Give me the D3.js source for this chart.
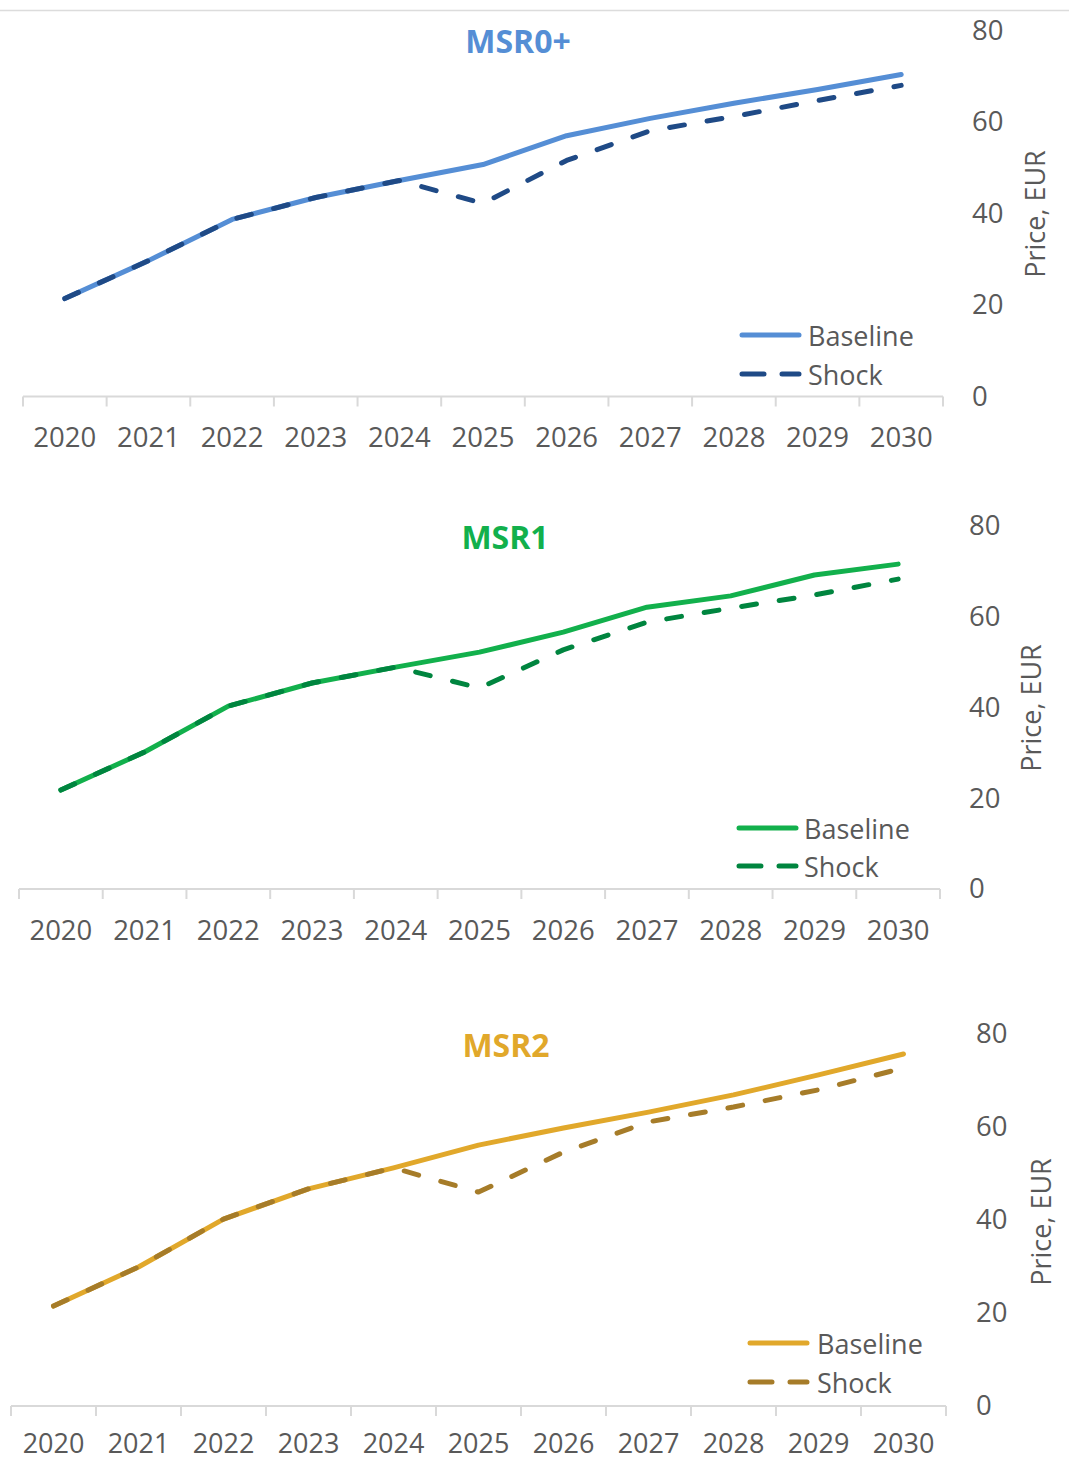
<!DOCTYPE html>
<html>
<head>
<meta charset="utf-8">
<script src="https://cdn.jsdelivr.net/npm/d3@7"></script>
<style>
  html, body { margin: 0; padding: 0; background: #fff; }
  svg { display: block; }
  text { font-family: "Open Sans", sans-serif; }
</style>
</head>
<body>
<svg id="chart" width="1069" height="1463"></svg>
<script>
// ---- data ----
const years = ["2020","2021","2022","2023","2024","2025","2026","2027","2028","2029","2030"];
const yTicks = [0, 20, 40, 60, 80];
const panelTitles = ["MSR0+", "MSR1", "MSR2"];
const seriesNames = ["Baseline", "Shock"];
const axisTitle = "Price, EUR";

const msr0Baseline = [21.4, 29.7, 38.7, 43.5, 47.2, 50.7, 57.0, 60.8, 64.1, 67.1, 70.4];
const msr0Shock    = [21.4, 29.7, 38.7, 43.5, 47.2, 42.2, 51.6, 58.1, 61.2, 64.7, 68.0];
const msr1Baseline = [21.8, 30.2, 40.3, 45.4, 48.9, 52.2, 56.6, 62.1, 64.6, 69.2, 71.6];
const msr1Shock    = [21.8, 30.2, 40.3, 45.4, 48.9, 44.3, 52.7, 58.8, 61.9, 64.8, 68.3];
const msr2Baseline = [21.5, 29.9, 40.2, 46.7, 51.2, 56.1, 59.8, 63.2, 66.9, 71.2, 75.7];
const msr2Shock    = [21.5, 29.9, 40.2, 46.7, 51.2, 46.0, 54.6, 61.1, 64.3, 68.0, 72.7];

// ---- layout / style (not data) ----
const panels = [
  { title: panelTitles[0], base: msr0Baseline, shock: msr0Shock,
    cBase: "#558ED5", cShock: "#1F4A86", cTitle: "#558ED5",
    xL: 23, xR: 943, y0: 396.5, yTop: 30.5, tickX: 972, xPad: 31, xFs: 27.5,
    atX: 1034, atY: 214, tX: 518, tY: 53,
    lgX: 742, lgTX: 808, lgY1: 335, lgY2: 374 },
  { title: panelTitles[1], base: msr1Baseline, shock: msr1Shock,
    cBase: "#12B04C", cShock: "#00853F", cTitle: "#12B04C",
    xL: 19, xR: 940, y0: 889, yTop: 526, tickX: 969, xPad: 31, xFs: 27.5,
    atX: 1030, atY: 708, tX: 505, tY: 549,
    lgX: 739, lgTX: 804, lgY1: 828, lgY2: 866 },
  { title: panelTitles[2], base: msr2Baseline, shock: msr2Shock,
    cBase: "#E1A82B", cShock: "#A67C29", cTitle: "#E1A82B",
    xL: 11, xR: 946, y0: 1406, yTop: 1034, tickX: 976, xPad: 28, xFs: 27,
    atX: 1040, atY: 1222, tX: 506, tY: 1057,
    lgX: 750, lgTX: 817, lgY1: 1343, lgY2: 1382 }
];

const textColor = "#595959";
const axisColor = "#D9D9D9";
const svg = d3.select("#chart");

// top border line
svg.append("line")
  .attr("x1", 0).attr("x2", 1069).attr("y1", 10.5).attr("y2", 10.5)
  .attr("stroke", "#DCDCDC").attr("stroke-width", 1.5);

panels.forEach(p => {
  const g = svg.append("g");
  const x = d3.scaleBand().domain(years).range([p.xL, p.xR]);
  const y = d3.scaleLinear().domain([0, 80]).range([p.y0, p.yTop]);

  // category axis line + boundary ticks
  g.append("line")
    .attr("x1", p.xL).attr("x2", p.xR)
    .attr("y1", p.y0).attr("y2", p.y0)
    .attr("stroke", axisColor).attr("stroke-width", 2);
  const bounds = years.map(d => x(d)).concat([x(years[years.length - 1]) + x.bandwidth()]);
  g.selectAll(".bt").data(bounds).join("line")
    .attr("x1", d => d).attr("x2", d => d)
    .attr("y1", p.y0).attr("y2", p.y0 + 10)
    .attr("stroke", axisColor).attr("stroke-width", 2);

  // x axis labels
  const xAxis = d3.axisBottom(x).tickSize(0).tickPadding(p.xPad);
  const xg = g.append("g").attr("transform", `translate(0,${p.y0})`).call(xAxis);
  xg.select(".domain").remove();
  xg.selectAll("text")
    .attr("fill", textColor)
    .style("font-size", p.xFs + "px")
    .style("font-family", "'Open Sans', sans-serif");

  // y axis labels (right side)
  const yAxis = d3.axisRight(y).tickValues(yTicks).tickSize(0).tickPadding(0);
  const yg = g.append("g").attr("transform", `translate(${p.tickX},0)`).call(yAxis);
  yg.select(".domain").remove();
  yg.selectAll("text")
    .attr("fill", textColor)
    .attr("text-anchor", "start")
    .style("font-size", "27.5px")
    .style("font-family", "'Open Sans', sans-serif");

  // axis title
  g.append("text")
    .attr("transform", `translate(${p.atX},${p.atY}) rotate(-90)`)
    .attr("text-anchor", "middle")
    .attr("dominant-baseline", "central")
    .attr("fill", textColor)
    .style("font-size", "27px")
    .text(axisTitle);

  // chart title
  g.append("text")
    .attr("x", p.tX).attr("y", p.tY)
    .attr("text-anchor", "middle")
    .attr("fill", p.cTitle)
    .style("font-size", "32px")
    .style("font-weight", "700")
    .text(p.title);

  // lines
  const line = d3.line()
    .x((d, i) => x(years[i]) + x.bandwidth() / 2)
    .y(d => y(d));

  g.append("path")
    .datum(p.base)
    .attr("d", line)
    .attr("fill", "none")
    .attr("stroke", p.cBase)
    .attr("stroke-width", 5)
    .attr("stroke-linecap", "round")
    .attr("stroke-linejoin", "round");

  g.append("path")
    .datum(p.shock)
    .attr("d", line)
    .attr("fill", "none")
    .attr("stroke", p.cShock)
    .attr("stroke-width", 5)
    .attr("stroke-dasharray", "15,23")
    .attr("stroke-linecap", "round")
    .attr("stroke-linejoin", "round");

  // legend
  const lg = g.append("g");
  lg.append("line")
    .attr("x1", p.lgX).attr("x2", p.lgX + 57)
    .attr("y1", p.lgY1).attr("y2", p.lgY1)
    .attr("stroke", p.cBase).attr("stroke-width", 5)
    .attr("stroke-linecap", "round");
  lg.append("line")
    .attr("x1", p.lgX).attr("x2", p.lgX + 57)
    .attr("y1", p.lgY2).attr("y2", p.lgY2)
    .attr("stroke", p.cShock).attr("stroke-width", 5)
    .attr("stroke-dasharray", "22,18")
    .attr("stroke-linecap", "round");
  lg.append("text")
    .attr("x", p.lgTX).attr("y", p.lgY1)
    .attr("dominant-baseline", "central")
    .attr("fill", textColor)
    .style("font-size", "27px")
    .text(seriesNames[0]);
  lg.append("text")
    .attr("x", p.lgTX).attr("y", p.lgY2)
    .attr("dominant-baseline", "central")
    .attr("fill", textColor)
    .style("font-size", "27px")
    .text(seriesNames[1]);
});
</script>
</body>
</html>
